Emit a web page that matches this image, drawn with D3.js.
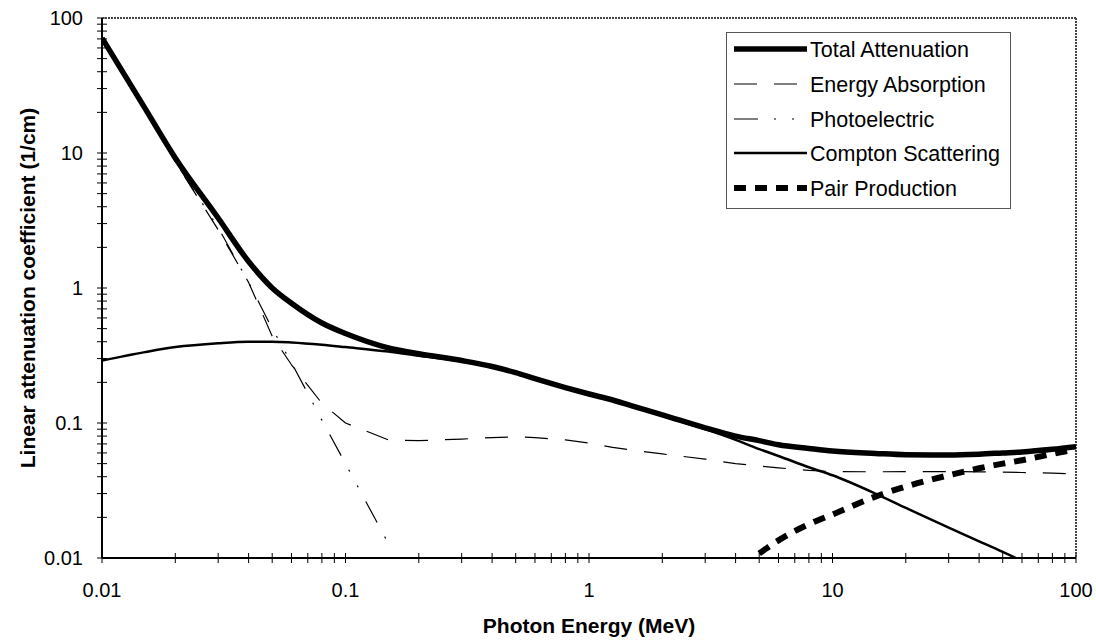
<!DOCTYPE html>
<html>
<head>
<meta charset="utf-8">
<script src="https://cdn.jsdelivr.net/npm/d3@7"></script>
<style>
    body { margin: 0; background: white; }
    #chart { width: 1096px; height: 644px; }
    text { font-family: Arial, "Liberation Sans", sans-serif; fill: black; }
</style>
</head>
<body>
<div id="chart"></div>
<script>
// photon energies (MeV) shared by the full-range series
const energies = [0.01, 0.015, 0.02, 0.03, 0.04, 0.05, 0.06, 0.08, 0.1, 0.15, 0.2, 0.3, 0.4, 0.5, 0.6, 0.8,
    1, 1.25, 1.5, 2, 3, 4, 5, 6, 8, 10, 15, 20, 30, 40, 50, 60, 80, 100];

const totalAttenuation = [71, 21.5, 9.2, 3.3, 1.57, 1.0, 0.77, 0.55, 0.46, 0.36, 0.326, 0.29, 0.262, 0.236, 0.213, 0.183,
    0.164, 0.148, 0.134, 0.115, 0.092, 0.080, 0.074, 0.069, 0.0648, 0.062, 0.0595, 0.0582, 0.058, 0.0588, 0.060, 0.061, 0.0638, 0.0667];

const energyAbsorption = [70, 21, 8.6, 2.7, 1.1, 0.44, 0.27, 0.14, 0.1, 0.075, 0.074, 0.076, 0.078, 0.079, 0.078, 0.075,
    0.071, 0.066, 0.063, 0.059, 0.054, 0.050, 0.048, 0.0465, 0.0445, 0.0437, 0.0435, 0.0436, 0.0437, 0.0435, 0.0433, 0.043, 0.0425, 0.042];

const compton = [0.29, 0.335, 0.365, 0.39, 0.40, 0.40, 0.395, 0.38, 0.365, 0.338, 0.315, 0.287, 0.26, 0.236, 0.212, 0.182,
    0.163, 0.147, 0.133, 0.113, 0.09, 0.075, 0.064, 0.057, 0.047, 0.041, 0.030, 0.0235, 0.0168, 0.0133, 0.0111, 0.0095, 0.0072, 0.0058];

const photoEnergies = [0.01, 0.015, 0.02, 0.03, 0.04, 0.05, 0.06, 0.08, 0.1, 0.15];
const photoelectric = [69, 21, 8.6, 2.8, 1.1, 0.5, 0.28, 0.105, 0.05, 0.0128];

const pairEnergies = [5, 6, 8, 10, 15, 20, 30, 40, 50, 60, 80, 100];
const pairProduction = [0.0108, 0.0135, 0.0178, 0.021, 0.0285, 0.0338, 0.041, 0.0462, 0.050, 0.053, 0.059, 0.064];

const tickValues = [0.01, 0.1, 1, 10, 100];
const tickLabels = ["0.01", "0.1", "1", "10", "100"];

const seriesNames = ["Total Attenuation", "Energy Absorption", "Photoelectric", "Compton Scattering", "Pair Production"];

class AttenuationChart {
    constructor(parentElement) {
        this.parentElement = parentElement;
        this.initVis();
    }

    initVis() {
        let vis = this;

        vis.margin = {top: 18, right: 20, bottom: 86, left: 102};
        vis.width = 1096 - vis.margin.left - vis.margin.right;
        vis.height = 644 - vis.margin.top - vis.margin.bottom;

        vis.svg = d3.select("#" + vis.parentElement).append("svg")
            .attr("width", 1096)
            .attr("height", 644);

        vis.g = vis.svg.append("g")
            .attr("transform", `translate(${vis.margin.left}, ${vis.margin.top})`);

        vis.x = d3.scaleLog().domain([0.01, 100]).range([0, vis.width]);
        vis.y = d3.scaleLog().domain([0.01, 100]).range([vis.height, 0]);

        vis.svg.append("defs").append("clipPath")
            .attr("id", "plotClip")
            .append("rect")
            .attr("width", vis.width)
            .attr("height", vis.height);

        // minor + major ticks, crossing the axes
        let minors = [];
        for (let d = 0.01; d < 100; d *= 10) {
            for (let k = 2; k <= 9; k++) minors.push(+(d * k).toPrecision(3));
        }
        let allTicks = minors.concat(tickValues);

        vis.g.selectAll(".xtick").data(allTicks).enter().append("line")
            .attr("x1", d => vis.x(d)).attr("x2", d => vis.x(d))
            .attr("y1", vis.height - 5).attr("y2", vis.height + 5)
            .attr("stroke", "black").attr("stroke-width", 1);

        vis.g.selectAll(".ytick").data(allTicks).enter().append("line")
            .attr("y1", d => vis.y(d)).attr("y2", d => vis.y(d))
            .attr("x1", -5).attr("x2", 5)
            .attr("stroke", "black").attr("stroke-width", 1);

        // frame
        vis.g.append("line").attr("x1", vis.width).attr("x2", vis.width).attr("y1", 0).attr("y2", vis.height)
            .attr("stroke", "#444").attr("stroke-width", 2).attr("stroke-dasharray", "2,1");
        vis.g.append("line").attr("x1", 0).attr("x2", vis.width).attr("y1", 0).attr("y2", 0)
            .attr("stroke", "#444").attr("stroke-width", 2).attr("stroke-dasharray", "2,1");
        vis.g.append("line").attr("x1", 0).attr("x2", 0).attr("y1", 0).attr("y2", vis.height)
            .attr("stroke", "black").attr("stroke-width", 2);
        vis.g.append("line").attr("x1", 0).attr("x2", vis.width).attr("y1", vis.height).attr("y2", vis.height)
            .attr("stroke", "black").attr("stroke-width", 2);

        // tick labels
        vis.g.selectAll(".xlabel").data(tickValues).enter().append("text")
            .attr("x", d => vis.x(d))
            .attr("y", vis.height + 39)
            .attr("text-anchor", "middle")
            .attr("font-size", "20px")
            .text((d, i) => tickLabels[i]);

        vis.g.selectAll(".ylabel").data(tickValues).enter().append("text")
            .attr("x", -19)
            .attr("y", d => vis.y(d) + 7)
            .attr("text-anchor", "end")
            .attr("font-size", "20px")
            .text((d, i) => tickLabels[i]);

        // axis titles
        vis.g.append("text")
            .attr("x", vis.width / 2)
            .attr("y", vis.height + 75)
            .attr("text-anchor", "middle")
            .attr("font-size", "21px")
            .attr("font-weight", "bold")
            .text("Photon Energy (MeV)");

        vis.svg.append("text")
            .attr("transform", `translate(35, ${vis.margin.top + vis.height / 2}) rotate(-90)`)
            .attr("text-anchor", "middle")
            .attr("font-size", "21px")
            .attr("font-weight", "bold")
            .text("Linear attenuation coefficient (1/cm)");

        // series styles
        vis.styles = [
            {width: 5.5, dash: null},
            {width: 1.2, dash: "23,17"},
            {width: 1.2, dash: "24,16,2,16,2,16"},
            {width: 2.5, dash: null},
            {width: 6, dash: "12,9"}
        ];

        vis.series = [
            energies.map((e, i) => [e, totalAttenuation[i]]),
            energies.map((e, i) => [e, energyAbsorption[i]]),
            photoEnergies.map((e, i) => [e, photoelectric[i]]),
            energies.map((e, i) => [e, compton[i]]),
            pairEnergies.map((e, i) => [e, pairProduction[i]])
        ];

        vis.line = d3.line()
            .x(d => vis.x(d[0]))
            .y(d => vis.y(d[1]));

        let plot = vis.g.append("g").attr("clip-path", "url(#plotClip)");
        // draw order: thin lines first, thick ones on top
        [1, 2, 4, 3, 0].forEach(i => {
            plot.append("path")
                .datum(vis.series[i])
                .attr("d", (i === 0 || i === 3 || i === 4) ? vis.line.curve(d3.curveMonotoneX)(vis.series[i]) : vis.line.curve(d3.curveLinear)(vis.series[i]))
                .attr("fill", "none")
                .attr("stroke", "black")
                .attr("stroke-width", vis.styles[i].width)
                .attr("stroke-dasharray", vis.styles[i].dash)
                .attr("stroke-linejoin", "round");
        });

        // legend
        vis.legend = vis.svg.append("g").attr("class", "legend");
        vis.legend.append("rect")
            .attr("x", 726.5).attr("y", 32.5)
            .attr("width", 284).attr("height", 176)
            .attr("fill", "white")
            .attr("stroke", "#555")
            .attr("stroke-width", 1);

        let legendY = [49, 84, 119, 153, 188];
        seriesNames.forEach((name, i) => {
            vis.legend.append("line")
                .attr("x1", 734).attr("x2", 807)
                .attr("y1", legendY[i]).attr("y2", legendY[i])
                .attr("stroke", "black")
                .attr("stroke-width", vis.styles[i].width)
                .attr("stroke-dasharray", vis.styles[i].dash);
            vis.legend.append("text")
                .attr("x", 810)
                .attr("y", legendY[i] + 7.5)
                .attr("font-size", "21.5px")
                .text(name);
        });
    }
}

new AttenuationChart("chart");
</script>
</body>
</html>
